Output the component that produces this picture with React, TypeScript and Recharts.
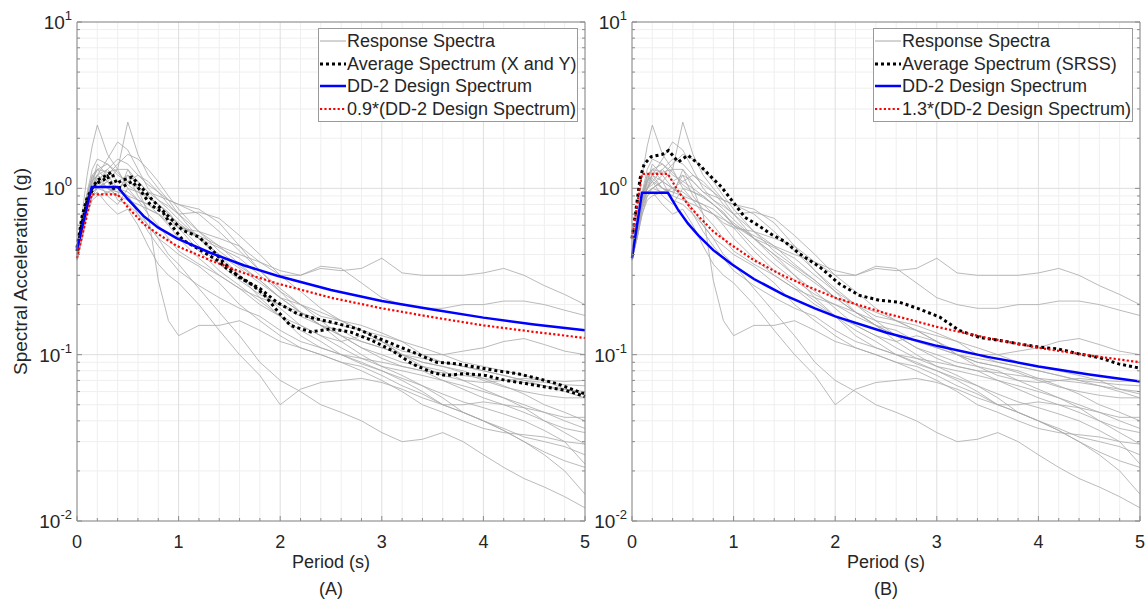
import React from "react";
import { LineChart, Line, XAxis, YAxis, CartesianGrid, Legend } from "recharts";

// periods (s) shared by every recorded response spectrum
const periods = [0, 0.05, 0.1, 0.15, 0.2, 0.3, 0.4, 0.5, 0.6, 0.7, 0.8, 0.9, 1.0, 1.2, 1.4, 1.6, 1.8, 2.0, 2.2, 2.4, 2.6, 2.8, 3.0, 3.2, 3.4, 3.6, 3.8, 4.0, 4.2, 4.4, 4.6, 4.8, 5.0];

// response spectra of the ground motion records (g)
const rs01 = [0.38, 0.55, 0.8, 1.0, 1.1, 1.0, 0.95, 1.2, 0.9, 0.75, 0.7, 0.62, 0.58, 0.55, 0.5, 0.45, 0.36, 0.3, 0.3, 0.33, 0.32, 0.33, 0.38, 0.31, 0.3, 0.3, 0.3, 0.31, 0.33, 0.3, 0.26, 0.23, 0.2];
const rs02 = [0.4, 0.6, 0.9, 1.2, 1.3, 1.1, 1.0, 0.95, 0.85, 0.8, 0.7, 0.65, 0.6, 0.52, 0.45, 0.4, 0.36, 0.32, 0.3, 0.34, 0.33, 0.27, 0.22, 0.2, 0.19, 0.19, 0.2, 0.2, 0.21, 0.21, 0.2, 0.185, 0.172];
const rs03 = [0.42, 0.7, 1.2, 1.8, 2.4, 1.6, 1.3, 1.0, 0.85, 0.7, 0.6, 0.5, 0.42, 0.35, 0.3, 0.25, 0.22, 0.2, 0.17, 0.15, 0.14, 0.12, 0.11, 0.1, 0.095, 0.09, 0.085, 0.08, 0.075, 0.07, 0.065, 0.06, 0.055];
const rs04 = [0.38, 0.5, 0.75, 0.9, 1.0, 1.1, 1.3, 2.5, 1.6, 1.2, 1.0, 0.85, 0.7, 0.55, 0.45, 0.35, 0.28, 0.22, 0.2, 0.18, 0.16, 0.14, 0.12, 0.1, 0.09, 0.085, 0.08, 0.072, 0.065, 0.058, 0.05, 0.045, 0.04];
const rs05 = [0.4, 0.55, 0.85, 1.1, 1.2, 1.0, 0.9, 1.3, 1.0, 0.7, 0.28, 0.16, 0.13, 0.15, 0.15, 0.16, 0.14, 0.12, 0.11, 0.1, 0.09, 0.085, 0.075, 0.065, 0.058, 0.05, 0.045, 0.04, 0.036, 0.032, 0.03, 0.028, 0.025];
const rs06 = [0.37, 0.5, 0.7, 0.9, 0.95, 0.8, 0.7, 0.75, 0.6, 0.45, 0.35, 0.3, 0.27, 0.2, 0.14, 0.1, 0.075, 0.05, 0.062, 0.068, 0.07, 0.072, 0.068, 0.062, 0.055, 0.05, 0.05, 0.052, 0.05, 0.048, 0.045, 0.042, 0.042];
const rs07 = [0.4, 0.6, 0.9, 1.1, 1.4, 1.2, 1.0, 0.9, 0.75, 0.6, 0.5, 0.4, 0.35, 0.25, 0.18, 0.13, 0.09, 0.07, 0.06, 0.05, 0.045, 0.04, 0.034, 0.03, 0.031, 0.034, 0.03, 0.025, 0.021, 0.018, 0.016, 0.014, 0.012];
const rs08 = [0.41, 0.6, 0.95, 1.3, 1.5, 1.4, 1.2, 1.1, 1.0, 0.9, 0.8, 0.7, 0.62, 0.5, 0.4, 0.3, 0.22, 0.17, 0.13, 0.11, 0.1, 0.09, 0.08, 0.07, 0.06, 0.05, 0.045, 0.04, 0.035, 0.03, 0.025, 0.02, 0.0145];
const rs09 = [0.39, 0.55, 0.8, 1.0, 1.1, 1.3, 1.5, 1.4, 1.2, 1.05, 0.95, 0.85, 0.8, 0.75, 0.62, 0.45, 0.32, 0.24, 0.18, 0.15, 0.13, 0.12, 0.11, 0.1, 0.09, 0.085, 0.078, 0.07, 0.064, 0.06, 0.057, 0.055, 0.055];
const rs10 = [0.38, 0.5, 0.7, 0.85, 0.9, 0.95, 1.0, 1.1, 1.2, 1.1, 0.95, 0.8, 0.7, 0.5, 0.38, 0.3, 0.24, 0.19, 0.15, 0.13, 0.12, 0.13, 0.12, 0.1, 0.085, 0.075, 0.07, 0.068, 0.07, 0.072, 0.07, 0.069, 0.07];
const rs11 = [0.4, 0.58, 0.85, 1.05, 1.2, 1.5, 1.9, 1.7, 1.3, 1.0, 0.85, 0.75, 0.65, 0.5, 0.4, 0.33, 0.27, 0.22, 0.18, 0.15, 0.13, 0.11, 0.095, 0.085, 0.08, 0.07, 0.062, 0.055, 0.05, 0.045, 0.04, 0.036, 0.034];
const rs12 = [0.37, 0.52, 0.78, 1.0, 1.2, 1.1, 0.85, 0.8, 0.7, 0.6, 0.5, 0.45, 0.4, 0.34, 0.27, 0.2, 0.16, 0.13, 0.11, 0.1, 0.09, 0.08, 0.07, 0.06, 0.05, 0.045, 0.04, 0.036, 0.034, 0.033, 0.032, 0.03, 0.029];
const rs13 = [0.42, 0.62, 0.92, 1.2, 1.1, 0.9, 0.8, 1.0, 0.95, 0.88, 0.8, 0.72, 0.6, 0.45, 0.35, 0.28, 0.23, 0.2, 0.18, 0.16, 0.15, 0.14, 0.13, 0.12, 0.11, 0.1, 0.09, 0.085, 0.08, 0.075, 0.07, 0.062, 0.058];
const rs14 = [0.4, 0.56, 0.85, 1.0, 1.05, 1.2, 1.4, 1.6, 1.5, 1.3, 1.1, 0.9, 0.75, 0.55, 0.42, 0.34, 0.28, 0.22, 0.18, 0.15, 0.12, 0.1, 0.085, 0.075, 0.065, 0.055, 0.045, 0.04, 0.035, 0.03, 0.026, 0.023, 0.021];
const rs15 = [0.38, 0.54, 0.8, 0.95, 1.0, 0.95, 0.9, 0.85, 0.8, 0.75, 0.7, 0.6, 0.5, 0.38, 0.3, 0.25, 0.2, 0.17, 0.15, 0.13, 0.11, 0.095, 0.085, 0.08, 0.075, 0.07, 0.065, 0.06, 0.055, 0.05, 0.045, 0.04, 0.036];
const rs16 = [0.41, 0.6, 0.9, 1.1, 1.2, 1.3, 1.1, 1.2, 1.1, 0.95, 0.9, 0.85, 0.8, 0.7, 0.55, 0.42, 0.32, 0.25, 0.2, 0.16, 0.13, 0.11, 0.1, 0.09, 0.085, 0.08, 0.07, 0.062, 0.055, 0.048, 0.04, 0.034, 0.029];
const rs17 = [0.39, 0.55, 0.82, 1.0, 1.15, 1.0, 0.95, 0.9, 0.7, 0.55, 0.45, 0.38, 0.32, 0.26, 0.22, 0.19, 0.17, 0.14, 0.12, 0.11, 0.1, 0.095, 0.09, 0.085, 0.08, 0.078, 0.075, 0.072, 0.07, 0.068, 0.065, 0.062, 0.06];
const rs18 = [0.4, 0.58, 0.88, 1.1, 1.3, 1.25, 1.3, 1.3, 1.1, 0.95, 0.85, 0.78, 0.7, 0.72, 0.66, 0.52, 0.4, 0.3, 0.24, 0.19, 0.16, 0.14, 0.12, 0.105, 0.1, 0.1, 0.105, 0.11, 0.12, 0.125, 0.115, 0.105, 0.1];
const rs19 = [0.37, 0.52, 0.75, 0.95, 1.0, 1.1, 1.0, 0.9, 0.85, 0.8, 0.75, 0.66, 0.58, 0.42, 0.32, 0.26, 0.21, 0.17, 0.14, 0.12, 0.1, 0.088, 0.08, 0.072, 0.065, 0.058, 0.052, 0.048, 0.044, 0.04, 0.035, 0.03, 0.022];
const rs20 = [0.4, 0.6, 0.9, 1.15, 1.3, 1.4, 1.25, 1.05, 0.95, 0.9, 0.8, 0.7, 0.6, 0.5, 0.44, 0.38, 0.3, 0.24, 0.2, 0.17, 0.16, 0.15, 0.135, 0.12, 0.1, 0.09, 0.085, 0.08, 0.075, 0.07, 0.068, 0.066, 0.065];
const records = [rs01, rs02, rs03, rs04, rs05, rs06, rs07, rs08, rs09, rs10, rs11, rs12, rs13, rs14, rs15, rs16, rs17, rs18, rs19, rs20];

// average spectra, [period, Sa]
const avgX = [[0, 0.44], [0.05, 0.68], [0.1, 0.88], [0.15, 1.0], [0.2, 1.12], [0.26, 1.17], [0.34, 1.25], [0.39, 1.07], [0.45, 1.12], [0.54, 1.17], [0.62, 1.04], [0.72, 0.88], [0.82, 0.76], [0.92, 0.66], [1.04, 0.56], [1.2, 0.51], [1.31, 0.44], [1.44, 0.36], [1.6, 0.29], [1.8, 0.25], [1.97, 0.206], [2.17, 0.176], [2.36, 0.164], [2.56, 0.154], [2.76, 0.143], [2.95, 0.127], [3.15, 0.113], [3.35, 0.101], [3.54, 0.09], [3.74, 0.088], [3.94, 0.084], [4.13, 0.08], [4.33, 0.077], [4.53, 0.072], [4.72, 0.067], [5.0, 0.058]];
const avgY = [[0, 0.42], [0.05, 0.62], [0.1, 0.84], [0.15, 0.97], [0.2, 1.08], [0.26, 1.12], [0.3, 1.18], [0.36, 1.0], [0.45, 1.02], [0.54, 1.1], [0.62, 0.98], [0.72, 0.8], [0.85, 0.71], [0.92, 0.61], [1.04, 0.49], [1.2, 0.43], [1.38, 0.37], [1.5, 0.32], [1.7, 0.27], [1.84, 0.23], [1.97, 0.184], [2.1, 0.15], [2.3, 0.137], [2.5, 0.143], [2.69, 0.137], [2.9, 0.122], [3.1, 0.106], [3.3, 0.088], [3.5, 0.078], [3.63, 0.075], [3.82, 0.077], [4.02, 0.075], [4.22, 0.07], [4.42, 0.067], [4.61, 0.064], [4.81, 0.061], [5.0, 0.056]];
const avgSrss = [[0, 0.5], [0.04, 0.75], [0.08, 1.15], [0.12, 1.4], [0.19, 1.55], [0.3, 1.6], [0.36, 1.69], [0.455, 1.44], [0.55, 1.58], [0.65, 1.41], [0.75, 1.22], [0.88, 1.02], [0.98, 0.85], [1.11, 0.67], [1.24, 0.6], [1.37, 0.53], [1.5, 0.48], [1.65, 0.404], [1.85, 0.336], [2.04, 0.267], [2.24, 0.227], [2.44, 0.212], [2.63, 0.207], [2.83, 0.188], [3.03, 0.168], [3.22, 0.14], [3.42, 0.127], [3.61, 0.122], [3.81, 0.116], [4.01, 0.111], [4.2, 0.108], [4.4, 0.101], [4.6, 0.096], [4.79, 0.088], [5.0, 0.083]];

// DD-2 design spectra and their scaled versions
const designA = [[0, 0.43], [0.146, 1.02], [0.4, 1.02], [0.5, 0.86], [0.656, 0.68], [0.8, 0.58], [0.984, 0.5], [1.31, 0.41], [1.64, 0.345], [1.97, 0.298], [2.5, 0.245], [3, 0.21], [3.5, 0.187], [4, 0.167], [4.5, 0.152], [5, 0.14]];
const scaledA = [[0, 0.38], [0.146, 0.92], [0.4, 0.92], [0.5, 0.77], [0.656, 0.61], [0.8, 0.53], [0.984, 0.45], [1.31, 0.37], [1.64, 0.31], [1.97, 0.268], [2.5, 0.22], [3, 0.19], [3.5, 0.168], [4, 0.15], [4.5, 0.137], [5, 0.126]];
const designB = [[0, 0.38], [0.098, 0.94], [0.354, 0.94], [0.45, 0.75], [0.55, 0.615], [0.655, 0.52], [0.8, 0.425], [0.982, 0.35], [1.2, 0.285], [1.5, 0.228], [1.8, 0.19], [2, 0.17], [2.5, 0.136], [3, 0.113], [3.5, 0.097], [4, 0.085], [4.5, 0.076], [5, 0.069]];
const scaledB = [[0, 0.5], [0.098, 1.22], [0.354, 1.22], [0.45, 0.97], [0.55, 0.8], [0.655, 0.68], [0.8, 0.55], [0.982, 0.455], [1.2, 0.37], [1.5, 0.296], [1.8, 0.247], [2, 0.22], [2.5, 0.177], [3, 0.147], [3.5, 0.126], [4, 0.11], [4.5, 0.099], [5, 0.09]];

// axis ticks
const periodTicks = [0, 0.2, 0.4, 0.6, 0.8, 1, 1.2, 1.4, 1.6, 1.8, 2, 2.2, 2.4, 2.6, 2.8, 3, 3.2, 3.4, 3.6, 3.8, 4, 4.2, 4.4, 4.6, 4.8, 5];
const accelTicks = [0.01, 0.02, 0.03, 0.04, 0.05, 0.06, 0.07, 0.08, 0.09, 0.1, 0.2, 0.3, 0.4, 0.5, 0.6, 0.7, 0.8, 0.9, 1, 2, 3, 4, 5, 6, 7, 8, 9, 10];
const decades = [0.01, 0.1, 1, 10];

const FONT = '"Liberation Sans", Arial, Helvetica, sans-serif';
const AXIS = "#8c8c8c";
const TEXT = "#262626";
const GRAY = "#a8a8a8";

const recordRows = periods.map((t, i) => {
  const row: Record<string, number> = { t };
  records.forEach((r, j) => (row["r" + j] = r[i]));
  return row;
});
const toRows = (pts: number[][]) => pts.map(([t, v]) => ({ t, v }));

const isDecade = (v: number) => {
  const e = Math.log10(v);
  return Math.abs(e - Math.round(e)) < 1e-9;
};
const minorPeriods = periodTicks.filter((v) => !Number.isInteger(v));
const majorPeriods = periodTicks.filter((v) => Number.isInteger(v));
const minorAccel = accelTicks.filter((v) => !isDecade(v));

function BottomTick(props: any) {
  const { x, y, payload } = props;
  const major = Number.isInteger(payload.value);
  return (
    <g>
      <line x1={x} x2={x} y1={y} y2={y - (major ? 5 : 3)} stroke={AXIS} />
      {major && (
        <text x={x} y={y + 27} textAnchor="middle" fontSize={18} fill={TEXT} fontFamily={FONT}>
          {payload.value}
        </text>
      )}
    </g>
  );
}

function TopTick(props: any) {
  const { x, y, payload } = props;
  const major = Number.isInteger(payload.value);
  return <line x1={x} x2={x} y1={y} y2={y + (major ? 5 : 3)} stroke={AXIS} />;
}

function LeftTick(props: any) {
  const { x, y, payload } = props;
  const major = isDecade(payload.value);
  const exp = Math.round(Math.log10(payload.value));
  return (
    <g>
      <line x1={x} x2={x + (major ? 5 : 3)} y1={y} y2={y} stroke={AXIS} />
      {major && (
        <text x={x - 5} y={y + 7} textAnchor="end" fontSize={19} fill={TEXT} fontFamily={FONT}>
          10
          <tspan dy={-9} fontSize={13}>
            {exp}
          </tspan>
        </text>
      )}
    </g>
  );
}

function RightTick(props: any) {
  const { x, y, payload } = props;
  const major = isDecade(payload.value);
  return <line x1={x} x2={x - (major ? 5 : 3)} y1={y} y2={y} stroke={AXIS} />;
}

function PeriodLabel(props: any) {
  const { viewBox, tag } = props;
  const cx = viewBox.x + viewBox.width / 2;
  return (
    <g fontFamily={FONT} fill={TEXT} fontSize={18} textAnchor="middle">
      <text x={cx} y={viewBox.y + 47}>Period (s)</text>
      <text x={cx} y={viewBox.y + 74}>{tag}</text>
    </g>
  );
}

function AccelLabel(props: any) {
  const { viewBox } = props;
  const cx = viewBox.x;
  const cy = viewBox.y + viewBox.height / 2;
  return (
    <text
      x={cx}
      y={cy}
      transform={`rotate(-90, ${cx}, ${cy})`}
      textAnchor="middle"
      dominantBaseline="central"
      fontSize={19}
      fill={TEXT}
      fontFamily={FONT}
    >
      Spectral Acceleration (g)
    </text>
  );
}

function LegendBox({ labels }: { labels: string[] }) {
  const styles = [
    { stroke: GRAY, width: 1, dash: undefined },
    { stroke: "#000000", width: 3, dash: "3 3" },
    { stroke: "#0000ff", width: 2.5, dash: undefined },
    { stroke: "#ff0000", width: 2.2, dash: "2.2 2.2" },
  ];
  return (
    <div
      style={{
        width: 260,
        boxSizing: "border-box",
        border: "1px solid #9a9a9a",
        background: "#ffffff",
        padding: "1px 0 1px 1px",
        fontFamily: FONT,
        fontSize: 18,
        color: TEXT,
        lineHeight: "22.6px",
        whiteSpace: "nowrap",
      }}
    >
      {labels.map((label, i) => (
        <div key={label} style={{ display: "flex", alignItems: "center" }}>
          <svg width={26} height={10} style={{ flex: "none" }}>
            <line x1={0} x2={26} y1={5} y2={5} stroke={styles[i].stroke} strokeWidth={styles[i].width} strokeDasharray={styles[i].dash} />
          </svg>
          <span style={{ marginLeft: 1 }}>{label}</span>
        </div>
      ))}
    </div>
  );
}

interface PanelProps {
  left: number;
  tag: string;
  averages: number[][][];
  design: number[][];
  scaled: number[][];
  labels: string[];
  showYLabel: boolean;
}

function Panel({ left, tag, averages, design, scaled, labels, showYLabel }: PanelProps) {
  return (
    <div style={{ position: "absolute", left, top: 0 }}>
      <LineChart width={592} height={601} margin={{ top: 21, right: 1, bottom: 50, left: 20 }}>
        <CartesianGrid verticalValues={minorPeriods} horizontalValues={minorAccel} stroke="#efefef" />
        <CartesianGrid verticalValues={majorPeriods} horizontalValues={decades} stroke="#dedede" />
        <XAxis
          type="number"
          dataKey="t"
          domain={[0, 5]}
          ticks={periodTicks}
          interval={0}
          tick={<BottomTick />}
          tickLine={false}
          tickSize={0}
          tickMargin={0}
          axisLine={{ stroke: AXIS }}
          height={30}
          label={<PeriodLabel tag={tag} />}
        />
        <XAxis
          xAxisId="top"
          orientation="top"
          type="number"
          dataKey="t"
          domain={[0, 5]}
          ticks={periodTicks}
          interval={0}
          tick={<TopTick />}
          tickLine={false}
          tickSize={0}
          tickMargin={0}
          axisLine={{ stroke: AXIS }}
          height={1}
        />
        <YAxis
          type="number"
          scale="log"
          domain={[0.01, 10]}
          allowDataOverflow
          ticks={accelTicks}
          interval={0}
          tick={<LeftTick />}
          tickLine={false}
          tickSize={0}
          tickMargin={0}
          axisLine={{ stroke: AXIS }}
          width={57}
          label={showYLabel ? <AccelLabel /> : undefined}
        />
        <YAxis
          yAxisId="right"
          orientation="right"
          type="number"
          scale="log"
          domain={[0.01, 10]}
          allowDataOverflow
          ticks={accelTicks}
          interval={0}
          tick={<RightTick />}
          tickLine={false}
          tickSize={0}
          tickMargin={0}
          axisLine={{ stroke: AXIS }}
          width={6}
        />
        {records.map((_, j) => (
          <Line
            key={"r" + j}
            data={recordRows}
            dataKey={"r" + j}
            type="linear"
            stroke={GRAY}
            strokeWidth={0.8}
            dot={false}
            isAnimationActive={false}
          />
        ))}
        {averages.map((avg, k) => (
          <Line
            key={"avg" + k}
            data={toRows(avg)}
            dataKey="v"
            type="linear"
            stroke="#000000"
            strokeWidth={3}
            strokeDasharray="3 3"
            dot={false}
            isAnimationActive={false}
          />
        ))}
        <Line data={toRows(design)} dataKey="v" type="linear" stroke="#0000ff" strokeWidth={2.5} dot={false} isAnimationActive={false} />
        <Line data={toRows(scaled)} dataKey="v" type="linear" stroke="#ff0000" strokeWidth={2.2} strokeDasharray="2.2 2.2" dot={false} isAnimationActive={false} />
        <Legend
          layout="horizontal"
          verticalAlign="middle"
          align="center"
          width={260}
          wrapperStyle={{ left: 318, top: 28 }}
          content={() => <LegendBox labels={labels} />}
        />
      </LineChart>
    </div>
  );
}

export default function App() {
  return (
    <div style={{ position: "absolute", left: 0, top: 0, width: 1148, height: 601, background: "#ffffff", overflow: "hidden" }}>
      <Panel
        left={0}
        tag="(A)"
        averages={[avgX, avgY]}
        design={designA}
        scaled={scaledA}
        labels={["Response Spectra", "Average Spectrum (X and Y)", "DD-2 Design Spectrum", "0.9*(DD-2 Design Spectrum)"]}
        showYLabel
      />
      <Panel
        left={555}
        tag="(B)"
        averages={[avgSrss]}
        design={designB}
        scaled={scaledB}
        labels={["Response Spectra", "Average Spectrum (SRSS)", "DD-2 Design Spectrum", "1.3*(DD-2 Design Spectrum)"]}
        showYLabel={false}
      />
    </div>
  );
}
